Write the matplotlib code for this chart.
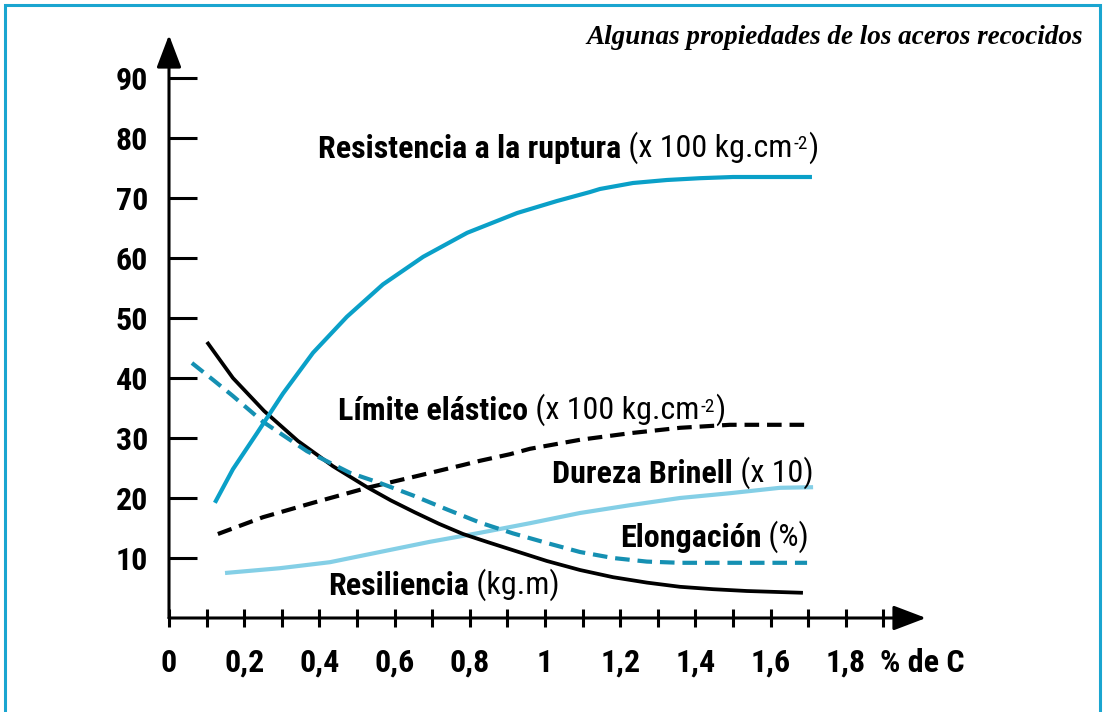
import matplotlib
matplotlib.use('Agg')
import matplotlib.pyplot as plt
from matplotlib.patches import Rectangle

SANS = ['Roboto Condensed', 'DejaVu Sans Condensed', 'Liberation Sans Narrow', 'DejaVu Sans']
plt.rcParams['font.family'] = SANS
plt.rcParams['font.stretch'] = 'condensed'

# ---------------- data ----------------
res_x = [0.122, 0.170, 0.234, 0.303, 0.383, 0.473, 0.569, 0.676, 0.793, 0.926, 1.032, 1.120,
         1.146, 1.234, 1.324, 1.412, 1.50, 1.59, 1.71]
res_y = [19.2, 24.8, 30.8, 37.4, 44.2, 50.2, 55.6, 60.2, 64.2, 67.5, 69.5, 71.0,
         71.5, 72.5, 73.0, 73.3, 73.5, 73.5, 73.5]

lim_x = [0.130, 0.250, 0.383, 0.527, 0.649, 0.782, 0.827, 0.907, 0.960, 1.093, 1.226, 1.359, 1.492, 1.705]
lim_y = [14.0, 16.8, 19.2, 21.7, 23.5, 25.5, 26.2, 27.3, 28.2, 29.7, 30.8, 31.7, 32.2, 32.2]

dur_x = [0.149, 0.295, 0.428, 0.561, 0.694, 0.827, 0.960, 1.093, 1.226, 1.359, 1.492, 1.625, 1.713]
dur_y = [7.5, 8.3, 9.3, 11.0, 12.7, 14.2, 15.8, 17.5, 18.8, 20.0, 20.8, 21.7, 21.8]

elo_x = [0.061, 0.117, 0.170, 0.250, 0.367, 0.481, 0.561, 0.650, 0.739, 0.827, 0.915, 1.005, 1.093,
         1.181, 1.271, 1.359, 1.697]
elo_y = [42.5, 39.7, 37.0, 32.7, 27.8, 24.2, 22.5, 20.4, 18.1, 15.9, 14.1, 12.5, 11.0,
         10.0, 9.4, 9.2, 9.2]

resil_x = [0.101, 0.170, 0.253, 0.343, 0.436, 0.527, 0.590, 0.654, 0.718, 0.782, 0.850, 0.915, 1.005,
           1.093, 1.181, 1.271, 1.359, 1.447, 1.537, 1.686]
resil_y = [46.0, 40.0, 34.5, 29.5, 25.3, 21.8, 19.6, 17.6, 15.7, 14.0, 12.6, 11.3, 9.5,
           8.0, 6.8, 5.9, 5.2, 4.8, 4.5, 4.2]

x_ticks = [0, 0.1, 0.2, 0.3, 0.4, 0.5, 0.6, 0.7, 0.8, 0.9, 1.0, 1.1, 1.2, 1.3, 1.4, 1.5, 1.6, 1.7, 1.8, 1.9]
x_ticklabels = ['0', '', '0,2', '', '0,4', '', '0,6', '', '0,8', '', '1', '', '1,2', '', '1,4', '', '1,6', '', '1,8', '']
y_ticks = [10, 20, 30, 40, 50, 60, 70, 80, 90]
y_ticklabels = ['10', '20', '30', '40', '50', '60', '70', '80', '90']

title = 'Algunas propiedades de los aceros recocidos'
x_unit = '% de C'

C_RES = '#0aa0c8'
C_ELO = '#1590b2'
C_DUR = '#84cfe6'
C_FRAME = '#1aa5d0'

W, H = 1105, 712
fig = plt.figure(figsize=(W / 100, H / 100), dpi=100)
fig.patch.set_facecolor('white')

# frame
fig.patches.append(Rectangle((5 / W, -0.02), (1100 - 5) / W, (H - 5) / H + 0.02,
                             transform=fig.transFigure, fill=False,
                             edgecolor=C_FRAME, linewidth=2.2))

x0, x1 = 169, 926
y0, y1 = 618, 35
ax = fig.add_axes([x0 / W, (H - y0) / H, (x1 - x0) / W, (y0 - y1) / H])
XMAX = (x1 - x0) / 376.0
YMAX = (y0 - y1) / 6.0
ax.set_xlim(0, XMAX)
ax.set_ylim(0, YMAX)
ax.set_facecolor('none')
for s in ax.spines.values():
    s.set_visible(False)

lw = 3.0
ax.plot(res_x, res_y, color=C_RES, lw=lw, solid_capstyle='butt', solid_joinstyle='round', zorder=3)
ax.plot(dur_x, dur_y, color=C_DUR, lw=lw, solid_capstyle='butt', solid_joinstyle='round', zorder=2)
ax.plot(resil_x, resil_y, color='black', lw=2.7, solid_capstyle='butt', solid_joinstyle='round', zorder=2)
ax.plot(lim_x, lim_y, color='black', lw=lw, dashes=(3.5, 1.9), dash_capstyle='butt', zorder=2)
ax.plot(elo_x, elo_y, color=C_ELO, lw=lw, dashes=(3.5, 1.9), dash_capstyle='butt', zorder=2)

# axes arrows
arw = dict(arrowstyle='-|>,head_length=1.0,head_width=0.38', lw=2.2, color='black',
           mutation_scale=20, shrinkA=0, shrinkB=0)
ax.annotate('', xy=(XMAX, 0), xytext=(0, 0), arrowprops=arw, annotation_clip=False)
ax.annotate('', xy=(0, YMAX), xytext=(0, 0), arrowprops=arw, annotation_clip=False)

ax.set_xticks(x_ticks)
ax.set_xticklabels(x_ticklabels)
ax.set_yticks(y_ticks)
ax.set_yticklabels(y_ticklabels)
ax.tick_params(axis='x', direction='inout', length=13, width=2.2, pad=15, labelsize=23)
ax.tick_params(axis='y', direction='in', length=20, width=2.2, pad=15, labelsize=23)
for t in ax.get_xticklabels() + ax.get_yticklabels():
    t.set_fontweight('bold')

ax.text(1.891, -5.0, x_unit, ha='left', va='top', fontsize=23, fontweight='bold')


def label(x, y, bold, regular, sup=None, tail=None, size=23):
    t = ax.text(x, y, bold, fontsize=size, fontweight='bold', ha='left', va='baseline', zorder=5)
    r = ax.annotate(' ' + regular, xy=(1, 0), xycoords=t, ha='left', va='bottom',
                    fontsize=size, zorder=5)
    if sup is not None:
        s = ax.annotate(sup, xy=(1, 1), xycoords=r, xytext=(0.5, -3), textcoords='offset points',
                        ha='left', va='top', fontsize=size * 0.6, zorder=5)
        ax.annotate(tail, xy=(1, 0), xycoords=(s, r), xytext=(0.5, 0), textcoords='offset points',
                    ha='left', va='bottom', fontsize=size, zorder=5)


label(0.396, 76.7, 'Resistencia a la ruptura', '(x 100 kg.cm', '-2', ')')
label(0.449, 33.0, 'Límite elástico', '(x 100 kg.cm', '-2', ')')
label(1.019, 22.5, 'Dureza Brinell', '(x 10)')
label(1.199, 11.8, 'Elongación', '(%)')
label(0.423, 3.8, 'Resiliencia', '(kg.m)')

fig.text(1083 / W, 1 - 44 / H, title, ha='right', va='baseline',
         fontsize=19.5, fontweight='bold', fontstyle='italic', fontstretch='normal',
         family=['Liberation Serif', 'DejaVu Serif'])

fig.savefig('out.png', dpi=100)
